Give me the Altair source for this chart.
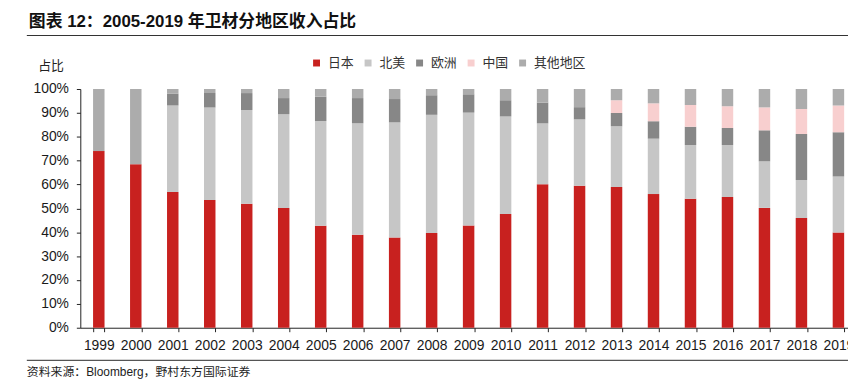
import altair as alt
import pandas as pd

years = [str(y) for y in range(1999, 2020)]
regions = ["日本", "北美", "欧洲", "中国", "其他地区"]
colors = ["#C8211F", "#C6C6C6", "#878787", "#F8CFCF", "#ACACAC"]

japan = [74.0, 68.5, 56.9, 53.5, 51.9, 50.2, 42.7, 39.0, 37.8, 39.7, 42.8,
         47.6, 60.1, 59.5, 59.0, 56.0, 54.0, 54.8, 50.2, 46.0, 39.9]
north_america = [0.0, 0.0, 36.2, 38.8, 39.3, 39.3, 43.9, 46.6, 48.2, 49.5, 47.3,
                 40.9, 25.5, 27.8, 25.4, 23.2, 22.5, 21.7, 19.5, 15.9, 23.4]
europe = [0.0, 0.0, 4.9, 6.0, 7.1, 6.7, 10.2, 10.6, 9.8, 8.2, 7.7,
          6.8, 8.7, 5.1, 5.5, 7.3, 7.7, 7.2, 13.0, 19.3, 18.6]
china = [0.0, 0.0, 0.0, 0.0, 0.0, 0.0, 0.0, 0.0, 0.0, 0.0, 0.0,
         0.0, 0.0, 0.0, 5.4, 7.5, 9.1, 9.1, 9.6, 10.4, 11.2]
others = [26.0, 31.5, 2.0, 1.7, 1.7, 3.8, 3.2, 3.8, 4.2, 2.6, 2.2,
          4.7, 5.7, 7.6, 4.7, 6.0, 6.7, 7.2, 7.7, 8.4, 6.9]

series = [japan, north_america, europe, china, others]
rows = []
for ri, (name, vals) in enumerate(zip(regions, series)):
    for y, v in zip(years, vals):
        rows.append({"year": y, "region": name, "value": v, "order": ri})
df = pd.DataFrame(rows)

LATIN = "Liberation Sans, Noto Sans CJK SC"
CJK = "Noto Sans CJK SC"

bars = alt.Chart(df).mark_bar().encode(
    x=alt.X("year:N", sort=years,
            scale=alt.Scale(range=[0, 784], paddingInner=0.69, paddingOuter=0.345),
            axis=alt.Axis(title=None, labelAngle=0, tickBand="extent", tickSize=4,
                          labelPadding=7, labelFontSize=14, labelFont=LATIN,
                          labelColor="#1a1a1a", domainColor="#222", tickColor="#222",
                          labelOverlap=False, labelBound=False, labelFlush=False)),
    y=alt.Y("value:Q", stack="zero",
            scale=alt.Scale(domain=[0, 100], nice=False),
            axis=alt.Axis(title="占比", titleAngle=0, titleAlign="left",
                          titleBaseline="middle", titleX=-43, titleY=-24,
                          titleFont=CJK, titleFontSize=13, titleFontWeight="normal",
                          titleColor="#222",
                          values=list(range(0, 101, 10)), labelExpr="datum.value + '%'",
                          grid=False, tickSize=4, labelPadding=8, labelFontSize=14,
                          labelFont=LATIN, labelColor="#1a1a1a",
                          domainColor="#222", tickColor="#222")),
    color=alt.Color("region:N", sort=regions,
                    scale=alt.Scale(domain=regions, range=colors),
                    legend=alt.Legend(title=None, orient="none", direction="horizontal",
                                      legendX=232, legendY=-33, symbolType="square",
                                      symbolSize=49, symbolStrokeWidth=0,
                                      labelFont=CJK, labelFontSize=13, labelColor="#333",
                                      labelOffset=5, columnPadding=7)),
    order=alt.Order("order:Q", sort="ascending"),
)

title_df = pd.DataFrame({"t": ["图表 12：2005-2019 年卫材分地区收入占比"]})
title = alt.Chart(title_df).mark_text(
    align="left", baseline="middle", font=LATIN, fontSize=17, fontWeight="bold",
    color="#111"
).encode(text="t:N", x=alt.value(-52), y=alt.value(-68))

foot_df = pd.DataFrame({"t": ["资料来源：Bloomberg，野村东方国际证券"]})
footer = alt.Chart(foot_df).mark_text(
    align="left", baseline="middle", font=LATIN, fontSize=12, color="#222"
).encode(text="t:N", x=alt.value(-54), y=alt.value(286))

rule_top = alt.Chart(title_df).mark_rule(color="#333", strokeWidth=1.2).encode(
    x=alt.value(-54), x2=alt.value(800), y=alt.value(-54))
rule_bot = alt.Chart(title_df).mark_rule(color="#555", strokeWidth=1.2).encode(
    x=alt.value(-54), x2=alt.value(800), y=alt.value(274))

chart = alt.layer(bars, title, footer, rule_top, rule_bot).properties(
    width=775, height=241,
    autosize=alt.AutoSizeParams(type="none"),
    padding={"left": 73, "top": 80, "right": 0, "bottom": 53},
).configure_view(stroke=None)

chart.save("out.html", embed_options={"renderer": "svg", "actions": False})
